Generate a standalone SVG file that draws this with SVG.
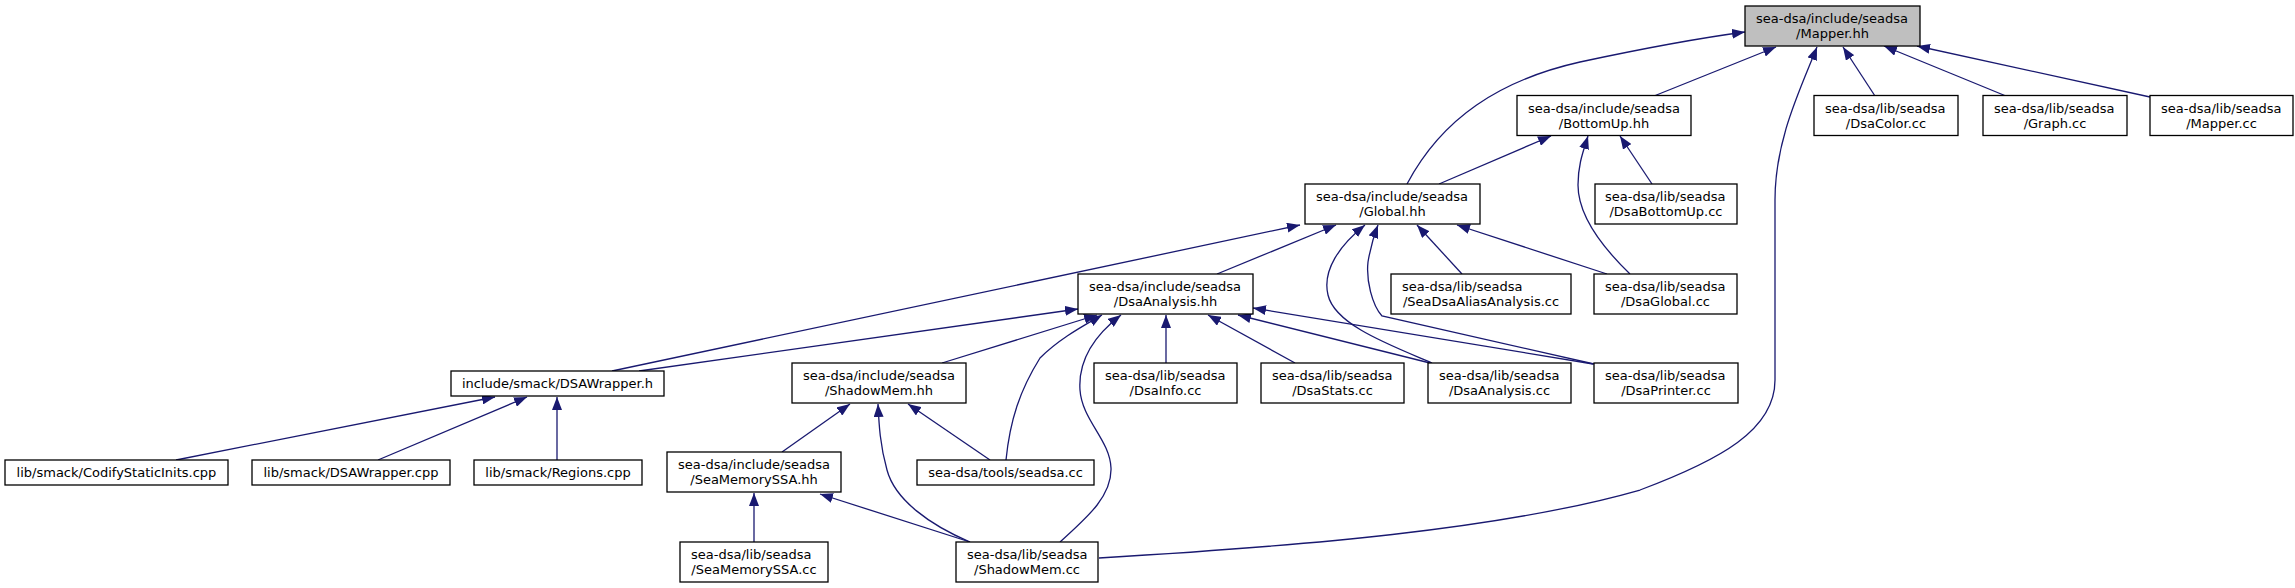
<svg xmlns="http://www.w3.org/2000/svg" width="2295" height="588" viewBox="0 0 2295 588">
<style>
.node rect{fill:#fff;stroke:#000;stroke-width:1.3}
.node.main rect{fill:#bfbfbf}
.node text{font-family:"DejaVu Sans",sans-serif;font-size:13px;fill:#000}
.node text.c{text-anchor:middle}
.edge{fill:none;stroke:#191970;stroke-width:1.3;marker-end:url(#arr)}
</style>
<defs>
<marker id="arr" markerUnits="userSpaceOnUse" markerWidth="14" markerHeight="10" refX="13" refY="5" orient="auto">
<path d="M0,0 L13,5 L0,10 z" fill="#191970"/>
</marker>
</defs>
<rect width="2295" height="588" fill="#fff"/>
<g id="edges">
<path class="edge" d="M1407,184 C1442,118 1500,80 1580,62 C1650,47 1700,38 1745,32"/>
<path class="edge" d="M1654,96 L1776,47"/>
<path class="edge" d="M1099,558 C1300,546 1500,530 1640,490 C1720,460 1775,430 1775,380 L1775,200 C1775,140 1800,90 1817,47"/>
<path class="edge" d="M1875,96 L1843,47"/>
<path class="edge" d="M2006,96 L1884,46"/>
<path class="edge" d="M2150,97 L1917,46"/>
<path class="edge" d="M1439,184 L1551,136"/>
<path class="edge" d="M1630,274 C1600,245 1578,215 1578,185 C1578,165 1583,152 1588,136"/>
<path class="edge" d="M1652,184 L1620,136"/>
<path class="edge" d="M612,371 L1300,225"/>
<path class="edge" d="M1217,274 L1336,225"/>
<path class="edge" d="M1432,363 C1390,345 1335,325 1328,295 C1322,270 1340,245 1365,225"/>
<path class="edge" d="M1594,364 L1382,316 C1372,305 1366,280 1368,262 C1370,250 1373,238 1378,225"/>
<path class="edge" d="M1462,274 L1417,225"/>
<path class="edge" d="M1607,274 L1457,225"/>
<path class="edge" d="M639,371 L1078,309"/>
<path class="edge" d="M942,363 L1097,315"/>
<path class="edge" d="M1006,460 C1010,420 1020,390 1040,358 C1060,338 1085,325 1102,315"/>
<path class="edge" d="M1060,542 C1090,515 1112,495 1111,468 C1110,440 1082,420 1080,390 C1078,360 1095,335 1121,315"/>
<path class="edge" d="M1166,363 L1166,315"/>
<path class="edge" d="M1295,363 L1208,315"/>
<path class="edge" d="M1430,363 L1238,315"/>
<path class="edge" d="M1593,364 L1253,308"/>
<path class="edge" d="M176,460 L495,397"/>
<path class="edge" d="M378,460 L527,397"/>
<path class="edge" d="M557,460 L557,397"/>
<path class="edge" d="M782,452 L850,404"/>
<path class="edge" d="M970,542 C930,525 895,500 887,470 C880,445 879,425 878,404"/>
<path class="edge" d="M990,460 L908,404"/>
<path class="edge" d="M754,542 L754,493"/>
<path class="edge" d="M970,542 L820,494"/>
</g>
<g id="n_mapper_hh" class="node main"><rect x="1745" y="6" width="175" height="40"/><text x="1756" y="23">sea-dsa/include/seadsa</text><text class="c" x="1832.5" y="38">/Mapper.hh</text></g>
<g id="n_bottomup_hh" class="node"><rect x="1517" y="95.5" width="174" height="40"/><text x="1528" y="112.5">sea-dsa/include/seadsa</text><text class="c" x="1604" y="127.5">/BottomUp.hh</text></g>
<g id="n_dsacolor_cc" class="node"><rect x="1814" y="95.5" width="144" height="40"/><text x="1825" y="112.5">sea-dsa/lib/seadsa</text><text class="c" x="1886" y="127.5">/DsaColor.cc</text></g>
<g id="n_graph_cc" class="node"><rect x="1983" y="95.5" width="144" height="40"/><text x="1994" y="112.5">sea-dsa/lib/seadsa</text><text class="c" x="2055" y="127.5">/Graph.cc</text></g>
<g id="n_mapper_cc" class="node"><rect x="2150" y="95.5" width="143" height="40"/><text x="2161" y="112.5">sea-dsa/lib/seadsa</text><text class="c" x="2221.5" y="127.5">/Mapper.cc</text></g>
<g id="n_global_hh" class="node"><rect x="1305" y="184" width="175" height="40"/><text x="1316" y="201">sea-dsa/include/seadsa</text><text class="c" x="1392.5" y="216">/Global.hh</text></g>
<g id="n_dsabottomup_cc" class="node"><rect x="1595" y="184" width="142" height="40"/><text x="1605" y="201">sea-dsa/lib/seadsa</text><text class="c" x="1666" y="216">/DsaBottomUp.cc</text></g>
<g id="n_dsaanalysis_hh" class="node"><rect x="1078" y="274" width="175" height="40"/><text x="1089" y="291">sea-dsa/include/seadsa</text><text class="c" x="1165.5" y="306">/DsaAnalysis.hh</text></g>
<g id="n_seadsaalias_cc" class="node"><rect x="1391" y="274" width="180" height="40"/><text x="1402" y="291">sea-dsa/lib/seadsa</text><text class="c" x="1481" y="306">/SeaDsaAliasAnalysis.cc</text></g>
<g id="n_dsaglobal_cc" class="node"><rect x="1594" y="274" width="143" height="40"/><text x="1605" y="291">sea-dsa/lib/seadsa</text><text class="c" x="1665.5" y="306">/DsaGlobal.cc</text></g>
<g id="n_dsawrapper_h" class="node"><rect x="451" y="371" width="213" height="25"/><text class="c" x="557.5" y="388">include/smack/DSAWrapper.h</text></g>
<g id="n_shadowmem_hh" class="node"><rect x="792" y="363" width="174" height="40"/><text x="803" y="380">sea-dsa/include/seadsa</text><text class="c" x="879" y="395">/ShadowMem.hh</text></g>
<g id="n_dsainfo_cc" class="node"><rect x="1094" y="363" width="143" height="40"/><text x="1105" y="380">sea-dsa/lib/seadsa</text><text class="c" x="1165.5" y="395">/DsaInfo.cc</text></g>
<g id="n_dsastats_cc" class="node"><rect x="1261" y="363" width="143" height="40"/><text x="1272" y="380">sea-dsa/lib/seadsa</text><text class="c" x="1332.5" y="395">/DsaStats.cc</text></g>
<g id="n_dsaanalysis_cc" class="node"><rect x="1428" y="363" width="143" height="40"/><text x="1439" y="380">sea-dsa/lib/seadsa</text><text class="c" x="1499.5" y="395">/DsaAnalysis.cc</text></g>
<g id="n_dsaprinter_cc" class="node"><rect x="1594" y="363" width="144" height="40"/><text x="1605" y="380">sea-dsa/lib/seadsa</text><text class="c" x="1666" y="395">/DsaPrinter.cc</text></g>
<g id="n_codify_cpp" class="node"><rect x="5" y="460" width="223" height="25"/><text class="c" x="116.5" y="477">lib/smack/CodifyStaticInits.cpp</text></g>
<g id="n_dsawrapper_cpp" class="node"><rect x="252" y="460" width="198" height="25"/><text class="c" x="351" y="477">lib/smack/DSAWrapper.cpp</text></g>
<g id="n_regions_cpp" class="node"><rect x="474" y="460" width="168" height="25"/><text class="c" x="558" y="477">lib/smack/Regions.cpp</text></g>
<g id="n_seamemoryssa_hh" class="node"><rect x="667" y="452" width="174" height="40"/><text x="678" y="469">sea-dsa/include/seadsa</text><text class="c" x="754" y="484">/SeaMemorySSA.hh</text></g>
<g id="n_seadsa_cc" class="node"><rect x="917" y="460" width="177" height="25"/><text class="c" x="1005.5" y="477">sea-dsa/tools/seadsa.cc</text></g>
<g id="n_seamemoryssa_cc" class="node"><rect x="680" y="542" width="148" height="40"/><text x="691" y="559">sea-dsa/lib/seadsa</text><text class="c" x="754" y="574">/SeaMemorySSA.cc</text></g>
<g id="n_shadowmem_cc" class="node"><rect x="956" y="542" width="142" height="40"/><text x="967" y="559">sea-dsa/lib/seadsa</text><text class="c" x="1027" y="574">/ShadowMem.cc</text></g>
</svg>
